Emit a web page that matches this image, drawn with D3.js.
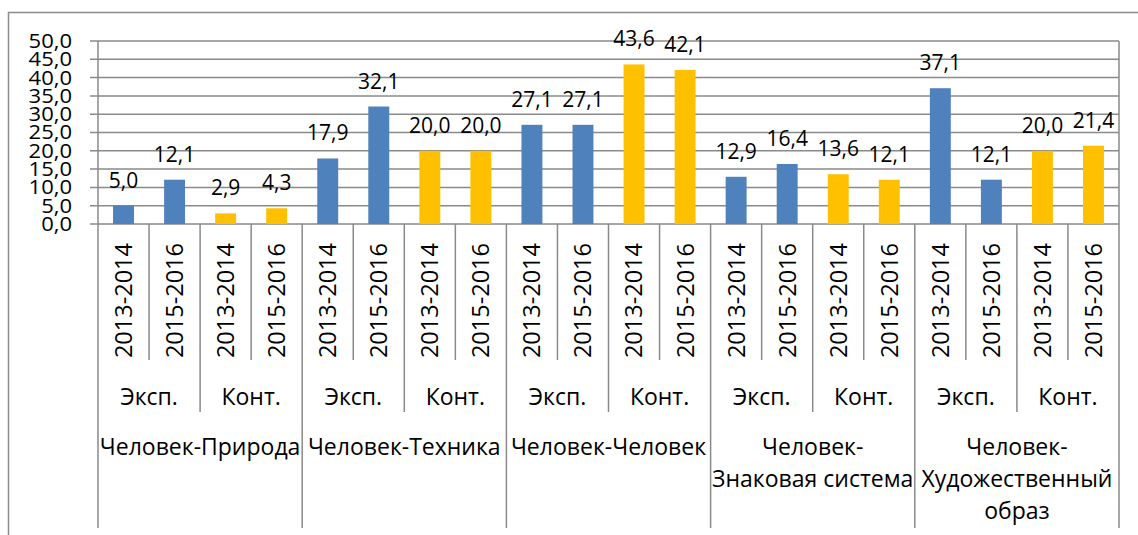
<!DOCTYPE html>
<html>
<head>
<meta charset="utf-8">
<script src="https://cdn.jsdelivr.net/npm/d3@7"></script>
<style>
  body { margin: 0; background: #fff; }
  svg { display: block; font-family: "Open Sans", sans-serif; }
</style>
</head>
<body>
<svg id="chart" width="1138" height="535"></svg>
<script>
// chart data
const groups = ["Человек-Природа", "Человек-Техника", "Человек-Человек", "Человек-\nЗнаковая система", "Человек-\nХудожественный\nобраз"];
const subgroups = ["Эксп.", "Конт."];
const years = ["2013-2014", "2015-2016"];
const exspValues = [[5.0, 12.1], [17.9, 32.1], [27.1, 27.1], [12.9, 16.4], [37.1, 12.1]];
const kontValues = [[2.9, 4.3], [20.0, 20.0], [43.6, 42.1], [13.6, 12.1], [20.0, 21.4]];
const yTicks = [0, 5, 10, 15, 20, 25, 30, 35, 40, 45, 50];

const colors = { "Эксп.": "#4f81bd", "Конт.": "#ffc000" };
const fmt = v => d3.format(".1f")(v).replace(".", ",");

// flatten into one row per bar
const rows = [];
groups.forEach((g, gi) => {
    subgroups.forEach((s, si) => {
        const vals = si === 0 ? exspValues[gi] : kontValues[gi];
        years.forEach((yr, yi) => {
            rows.push({ id: gi + "-" + si + "-" + yi, group: g, gi, sub: s, si, yi, year: yr, value: vals[yi] });
        });
    });
});

const svg = d3.select("#chart");
const plotLeft = 98, plotRight = 1119, plotTop = 41, plotBottom = 224;

const x = d3.scaleBand().domain(rows.map(d => d.id)).range([plotLeft, plotRight]).padding(0);
const y = d3.scaleLinear().domain([0, 50]).range([plotBottom, plotTop]);
const bw = x.bandwidth();
const barW = bw * 0.41;

// outer frame
svg.append("rect")
    .attr("x", 8.5).attr("y", 12.5)
    .attr("width", 1150).attr("height", 540)
    .attr("fill", "none").attr("stroke", "#8c8c8c").attr("stroke-width", 1.5);

// gridlines
svg.append("g")
    .selectAll("line")
    .data(yTicks)
    .enter().append("line")
    .attr("x1", plotLeft - 8).attr("x2", plotRight)
    .attr("y1", d => y(d)).attr("y2", d => y(d))
    .attr("stroke", "#8a8a8a").attr("stroke-width", 1.5);

// y axis line
svg.append("line")
    .attr("x1", plotLeft).attr("x2", plotLeft)
    .attr("y1", plotTop).attr("y2", plotBottom)
    .attr("stroke", "#8a8a8a").attr("stroke-width", 1.5);

// y tick labels (tightly stacked like the original, squeezed a little vertically)
svg.append("g")
    .selectAll("text")
    .data(yTicks)
    .enter().append("text")
    .attr("transform", d => `translate(72,${y(d)}) scale(1,0.88)`)
    .attr("dy", "0.36em")
    .attr("text-anchor", "end")
    .attr("font-size", 22)
    .attr("fill", "#000")
    .text(fmt);

// bars
svg.append("g")
    .selectAll("rect")
    .data(rows)
    .enter().append("rect")
    .attr("x", d => x(d.id) + (bw - barW) / 2)
    .attr("width", barW)
    .attr("y", d => y(d.value))
    .attr("height", d => y(0) - y(d.value))
    .attr("fill", d => colors[d.sub]);

// data labels
svg.append("g")
    .selectAll("text")
    .data(rows)
    .enter().append("text")
    .attr("x", d => x(d.id) + bw / 2)
    .attr("y", d => y(d.value) - 18)
    .attr("text-anchor", "middle")
    .attr("font-size", 21)
    .attr("fill", "#000")
    .text(d => fmt(d.value));

// category axis separators
const sep = svg.append("g").attr("stroke", "#8a8a8a").attr("stroke-width", 1.5);
rows.forEach(d => {
    const xx = x(d.id);
    let len = 360;
    if (d.yi === 0 && d.si === 0) len = 528;
    else if (d.yi === 0) len = 412;
    sep.append("line").attr("x1", xx).attr("x2", xx).attr("y1", plotBottom).attr("y2", len);
});
sep.append("line").attr("x1", plotRight).attr("x2", plotRight).attr("y1", plotTop).attr("y2", 528);

// year labels (rotated)
svg.append("g")
    .selectAll("text")
    .data(rows)
    .enter().append("text")
    .attr("transform", d => `translate(${x(d.id) + bw / 2},243) rotate(-90)`)
    .attr("dy", "0.36em")
    .attr("text-anchor", "end")
    .attr("font-size", 23.5)
    .attr("fill", "#000")
    .text(d => d.year);

// subgroup labels
const subRows = rows.filter(d => d.yi === 0);
svg.append("g")
    .selectAll("text")
    .data(subRows)
    .enter().append("text")
    .attr("x", d => x(d.id) + bw)
    .attr("y", 397)
    .attr("dy", "0.36em")
    .attr("text-anchor", "middle")
    .attr("font-size", 23)
    .attr("fill", "#000")
    .text(d => d.sub);

// group labels (may wrap over several lines)
const groupRows = rows.filter(d => d.yi === 0 && d.si === 0);
groupRows.forEach(d => {
    const lines = d.group.split("\n");
    const cx = x(d.id) + bw * 2;
    const t = svg.append("text")
        .attr("text-anchor", "middle")
        .attr("font-size", 23)
        .attr("fill", "#000");
    lines.forEach((ln, li) => {
        t.append("tspan")
            .attr("x", cx)
            .attr("y", 447 + li * 32)
            .attr("dy", "0.36em")
            .text(ln);
    });
});
</script>
</body>
</html>
